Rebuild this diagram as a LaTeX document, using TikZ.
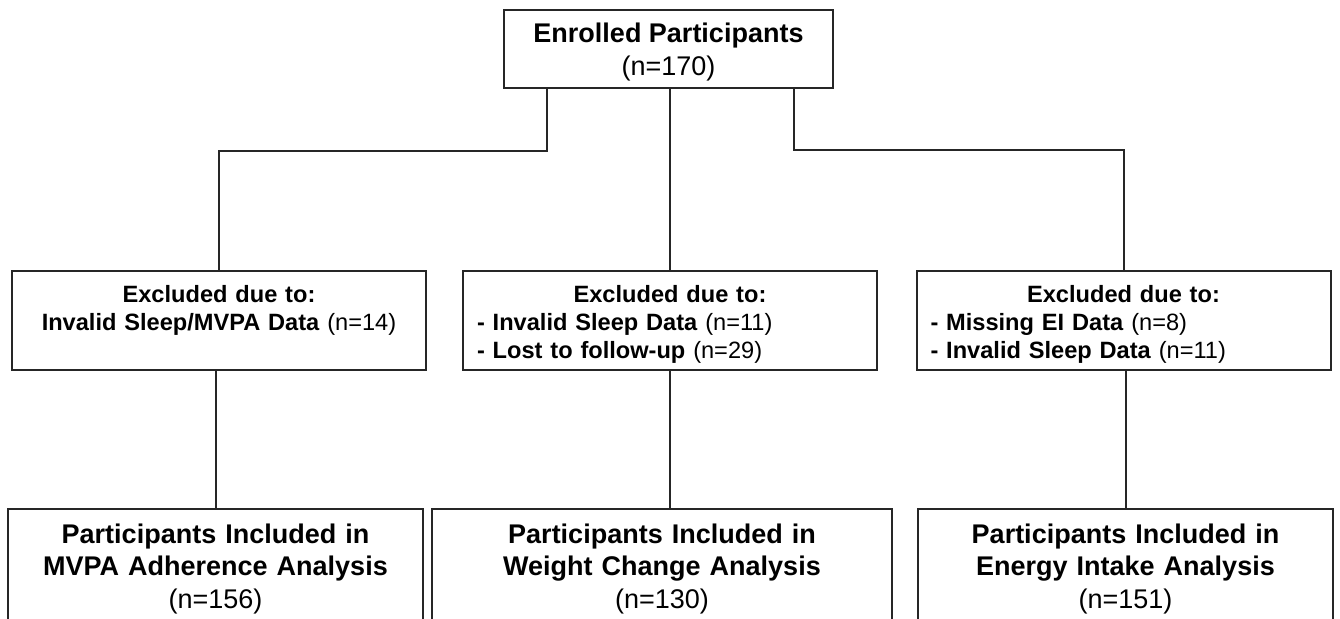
\documentclass[tikz,border=0pt]{standalone}
\usepackage{fontspec}
\setmainfont{Liberation Sans}
\begin{document}
\begin{tikzpicture}[x=0.5pt, y=-0.5pt, line width=1pt,
    box/.style={draw=black!85, line width=1pt, text=black},
    link/.style={draw=black!85, line width=1pt},
    bigtext/.style={font=\fontsize{13.5}{16.3}\selectfont},
    smalltext/.style={font=\fontsize{11.8}{14.2}\selectfont},
    excl/.style={box, smalltext, minimum width=207pt, minimum height=49.5pt,
      text width=193pt, inner xsep=7pt, text height=10pt, text depth=28.4pt},
    final/.style={box, bigtext, anchor=north, align=center, text width=200pt,
      inner xsep=0pt, inner ysep=7pt},
  ]
  % page
  \fill[white] (0,0) rectangle (1340,619);
  \useasboundingbox (0,0) rectangle (1340,619);
  % enrolled
  \node[box, bigtext, align=center, minimum width=164.5pt, minimum height=39pt,
    text depth=0pt] (enrol) at (668.5,49) {\textbf{Enrolled Participants}\\(n=170)};
  % exclusions
  \node[excl, align=center] (exL) at (219,320.5)
    {\textbf{Excluded due to:}\\\textbf{Invalid Sleep/MVPA Data} (n=14)\\\mbox{}};
  \node[excl, align=left] (exM) at (670,320.5)
    {\hfill\textbf{Excluded due to:}\hfill\null\\
     \textbf{- Invalid Sleep Data} (n=11)\\
     \textbf{- Lost to follow-up} (n=29)};
  \node[excl, align=left] (exR) at (1123.5,320.5)
    {\hfill\textbf{Excluded due to:}\hfill\null\\
     \textbf{- Missing EI Data} (n=8)\\
     \textbf{- Invalid Sleep Data} (n=11)};
  % analysis samples
  \node[final, minimum width=207.5pt] (botL) at (215.5,508.5)
    {\textbf{Participants Included in}\\\textbf{MVPA Adherence Analysis}\\(n=156)};
  \node[final, minimum width=230pt] (botM) at (662,508.5)
    {\textbf{Participants Included in}\\\textbf{Weight Change Analysis}\\(n=130)};
  \node[final, minimum width=207.5pt] (botR) at (1125.5,508.5)
    {\textbf{Participants Included in}\\\textbf{Energy Intake Analysis}\\(n=151)};
  % connectors
  \draw[link] ([xshift=22pt]enrol.south west) -- ++(0,62) -| (exL.north);
  \draw[link] (enrol.south -| exM.north) -- (exM.north);
  \draw[link] ([xshift=-20pt]enrol.south east) -- ++(0,61) -| (exR.north);
  \draw[link] (botL.north |- exL.south) -- (botL.north);
  \draw[link] (exM.south) -- (exM.south |- botM.north);
  \draw[link] (botR.north |- exR.south) -- (botR.north);
\end{tikzpicture}
\end{document}
